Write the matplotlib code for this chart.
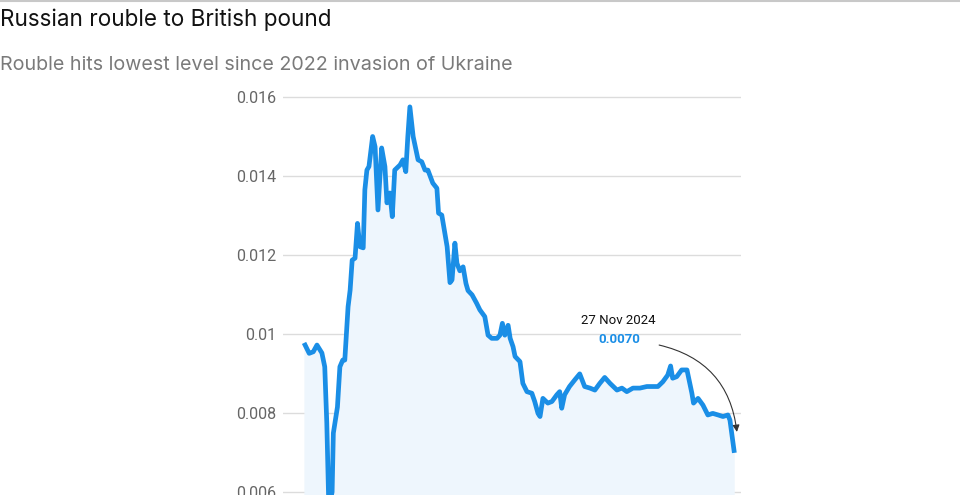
import matplotlib.pyplot as plt
import matplotlib.lines as mlines
import pandas as pd

plt.rcParams['font.family'] = ['Roboto', 'DejaVu Sans']

# rouble -> pound rate
dates = ["2022-01-14", "2022-01-24", "2022-02-03", "2022-02-12", "2022-02-24", "2022-03-03",
         "2022-03-08", "2022-03-13", "2022-03-21", "2022-03-24", "2022-04-03", "2022-04-09",
         "2022-04-16", "2022-04-21", "2022-04-29", "2022-05-04", "2022-05-09", "2022-05-16",
         "2022-05-22", "2022-05-28", "2022-06-05", "2022-06-09", "2022-06-14", "2022-06-19",
         "2022-06-28", "2022-07-04", "2022-07-11", "2022-07-20", "2022-07-28", "2022-08-02",
         "2022-08-09", "2022-08-15", "2022-08-21", "2022-09-03", "2022-09-10", "2022-09-17",
         "2022-09-22", "2022-09-27", "2022-10-05", "2022-10-17", "2022-10-26", "2022-11-03",
         "2022-11-10", "2022-11-22", "2022-12-02", "2022-12-06", "2022-12-14", "2022-12-27",
         "2023-01-03", "2023-01-08", "2023-01-15", "2023-01-20", "2023-01-27", "2023-02-04",
         "2023-02-11", "2023-02-16", "2023-02-26", "2023-03-09", "2023-03-17", "2023-03-29",
         "2023-04-06", "2023-04-15", "2023-04-28", "2023-05-05", "2023-05-11", "2023-05-17",
         "2023-05-25", "2023-05-30", "2023-06-06", "2023-06-11", "2023-06-23", "2023-06-30",
         "2023-07-10", "2023-07-22", "2023-07-29", "2023-08-06", "2023-08-11", "2023-08-18",
         "2023-08-30", "2023-09-09", "2023-09-21", "2023-09-28", "2023-10-03", "2023-10-10",
         "2023-10-22", "2023-11-04", "2023-11-16", "2023-11-28", "2023-12-11", "2023-12-23",
         "2024-01-04", "2024-01-16", "2024-01-29", "2024-02-15", "2024-02-27", "2024-03-10",
         "2024-03-25", "2024-04-11", "2024-04-28", "2024-05-13", "2024-05-25", "2024-06-06",
         "2024-06-18", "2024-06-25", "2024-06-30", "2024-07-10", "2024-07-22", "2024-08-04",
         "2024-08-16", "2024-08-20", "2024-08-31", "2024-09-12", "2024-09-24", "2024-10-06",
         "2024-10-19", "2024-10-31", "2024-11-12", "2024-11-17", "2024-11-27"]
rate = [0.00972, 0.00951, 0.00955, 0.00972, 0.00952, 0.00917,
        0.00775, 0.00560, 0.00600, 0.00749, 0.00815, 0.00917,
        0.00934, 0.00934, 0.01069, 0.01111, 0.01187, 0.01192,
        0.01280, 0.01221, 0.01218, 0.01365, 0.01415, 0.01424,
        0.01500, 0.01474, 0.01314, 0.01471, 0.01424, 0.01332,
        0.01357, 0.01297, 0.01415, 0.01428, 0.01441, 0.01411,
        0.01500, 0.01575, 0.01500, 0.01441, 0.01436, 0.01415,
        0.01415, 0.01382, 0.01369, 0.01306, 0.01301, 0.01221,
        0.01130, 0.01137, 0.01230, 0.01179, 0.01160, 0.01170,
        0.01128, 0.01110, 0.01099, 0.01078, 0.01061, 0.01044,
        0.00997, 0.00989, 0.00989, 0.00997, 0.01027, 0.00997,
        0.01022, 0.00989, 0.00968, 0.00943, 0.00930, 0.00875,
        0.00854, 0.00850, 0.00829, 0.00799, 0.00791, 0.00837,
        0.00825, 0.00829, 0.00846, 0.00854, 0.00812, 0.00846,
        0.00867, 0.00884, 0.00899, 0.00867, 0.00863, 0.00858,
        0.00875, 0.00890, 0.00875, 0.00858, 0.00863, 0.00854,
        0.00863, 0.00863, 0.00867, 0.00867, 0.00867, 0.00879,
        0.00896, 0.00919, 0.00888, 0.00892, 0.00909, 0.00909,
        0.00850, 0.00825, 0.00837, 0.00820, 0.00795, 0.00799,
        0.00795, 0.00791, 0.00795, 0.00782, 0.00705]
yticks = [0.006, 0.008, 0.01, 0.012, 0.014, 0.016]
ytick_labels = ["0.006", "0.008", "0.01", "0.012", "0.014", "0.016"]

x = pd.to_datetime(dates)
blue = "#1a8ee6"

fig = plt.figure(figsize=(9.6, 4.95), dpi=100)
fig.add_artist(mlines.Line2D([0, 1], [0.998, 0.998], color="#c8c8c8", lw=1.5))
fig.text(0.0, 1 - 20 / 495, "Russian rouble to British pound", fontsize=16.2,
         family=["Inter", "DejaVu Sans"], color="#121212", va="center", ha="left")
fig.text(0.0, 1 - 65 / 495, "Rouble hits lowest level since 2022 invasion of Ukraine",
         fontsize=14.2, family=["Inter", "DejaVu Sans"], color="#7a7a7a",
         va="center", ha="left")

ax = fig.add_axes([283 / 960, -0.0338, 458 / 960, 0.8538])
ax.fill_between(x, rate, 0, color="#eef6fd", zorder=1)
ax.plot(x, rate, color=blue, lw=3.4, solid_joinstyle="round", zorder=3)

ax.set_ylim(0.0055, 0.0162)
ax.set_xlim(x[0] - pd.Timedelta(days=54), x[-1] + pd.Timedelta(days=17))
ax.set_yticks(yticks)
ax.set_yticklabels(ytick_labels)
ax.set_xticks([])
ax.tick_params(axis="y", length=0, pad=5, labelsize=11.5, labelcolor="#666666")
ax.grid(axis="y", color="#dcdcdc", lw=1)
ax.set_axisbelow(True)
for s in ax.spines.values():
    s.set_visible(False)

# annotation for the last point
ax.text(x[-1] - pd.Timedelta(days=283), 0.01033, "27 Nov 2024", fontsize=9.5,
        color="#111111", ha="center", va="center")
ax.text(x[-1] - pd.Timedelta(days=281), 0.00985, "0.0070", fontsize=9.5,
        color=blue, fontweight="bold", ha="center", va="center")
ax.annotate("", xy=(x[-1] + pd.Timedelta(days=7), 0.00752),
            xytext=(x[-1] - pd.Timedelta(days=183), 0.00972),
            arrowprops=dict(arrowstyle="-|>", color="#333333", lw=0.8,
                            connectionstyle="arc3,rad=-0.35", mutation_scale=10,
                            shrinkA=0, shrinkB=0),
            zorder=5)

fig.savefig("out.png", dpi=100)
